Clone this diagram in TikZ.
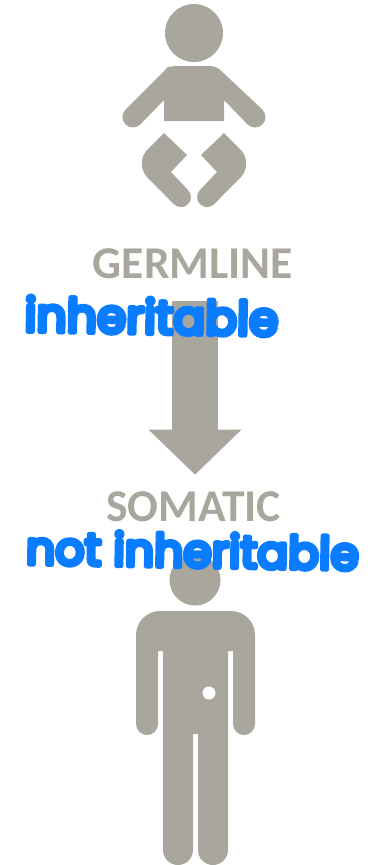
\documentclass[tikz,border=0pt]{standalone}
\usepackage{fontspec}
\setmainfont{Carlito}
\newfontfamily\markerfont[FakeBold=11,LetterSpace=1]{Poppins}
\usepackage{tikz}
\usetikzlibrary{arrows.meta,positioning}
\usepackage{xcolor}
\definecolor{softgray}{RGB}{168,166,157}
\definecolor{markerblue}{RGB}{10,124,255}

\begin{document}
\begin{tikzpicture}[
    x=1pt, y=-1pt,
    title/.style={text=softgray, inner sep=0pt, font=\fontsize{45.5}{45.5}\selectfont\bfseries},
    scrawl/.style={text=markerblue, inner sep=0pt, line join=round, line cap=round, font=\fontsize{45}{45}\markerfont},
    silhouette/.style={fill=softgray, draw=none},
    blockarrow/.style={draw=softgray, line width=46pt, -{Triangle[length=45pt, width=90pt]}}
]
\useasboundingbox (0,0) rectangle (385,865);

% baby
\fill[silhouette] (194,33) circle (29);
\fill[silhouette] (164,121) -- (164,100) -- (140.4,124.4) arc (45:225:10.5) -- (168,67)
    [rounded corners=6pt] -- (172,66) -- (216,66) [sharp corners] -- (262.4,109.6) arc (-45:135:10.5) -- (224,100) -- (224,121) -- cycle;
\fill[silhouette] (164,133) -- (187,155) -- (171,172) -- (188,190) arc (-45:135:10)
    [rounded corners=20pt] -- (133.5,163.5) [sharp corners] -- cycle;
\fill[silhouette] (224,133) -- (201,155) -- (217,172) -- (200,190) arc (225:45:10)
    [rounded corners=20pt] -- (254.5,163.5) [sharp corners] -- cycle;

\node[title] (germline) at (193,263.5) {GERMLINE};
\node[title] (somatic) at (193.5,507) {SOMATIC};
\draw[blockarrow, shorten <=22pt, shorten >=17pt] (germline.south -| 195,0) -- (somatic.north -| 195,0);

% adult
\fill[silhouette] (195,580) circle (25.5);
\fill[silhouette] (158,651) -- (163,651) [rounded corners=15pt] -- (163,865) -- (193,865) [sharp corners] -- (193,734) -- (198,734)
    [rounded corners=15pt] -- (198,865) -- (228,865) [sharp corners] -- (228,651) -- (233,651)
    [rounded corners=11pt] -- (233,735) -- (255,735) [rounded corners=24pt] -- (255,611) -- (136,611)
    [rounded corners=11pt] -- (136,735) -- (158,735) [sharp corners] -- cycle;
\node[circle, fill=white, inner sep=0pt, minimum size=13pt] (belly) at (209,693) {};

% scribbles
\node[scrawl, rotate=-1, font=\fontsize{46.5}{46.5}\markerfont] (inheritable) at (151.5,316) {inheritable};
\node[scrawl, rotate=-1] (notinheritable) at (192.5,550) {not inheritable};
\end{tikzpicture}
\end{document}
